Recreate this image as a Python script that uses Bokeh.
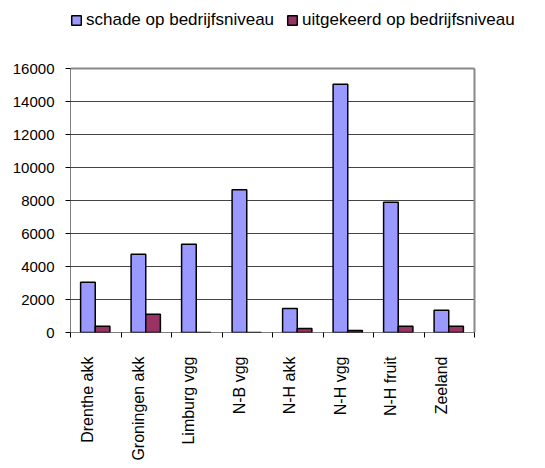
import numpy as np
from bokeh.plotting import figure
from bokeh.models import ColumnDataSource, FixedTicker, Legend, LegendItem, Range1d
from bokeh.transform import dodge
from bokeh.embed import file_html
from bokeh.resources import INLINE

categories = ["Drenthe akk", "Groningen akk", "Limburg vgg", "N-B vgg",
              "N-H akk", "N-H vgg", "N-H fruit", "Zeeland"]
schade = [3050, 4750, 5350, 8650, 1450, 15050, 7900, 1350]
uitgekeerd = [380, 1100, 0, 0, 250, 120, 380, 380]
y_ticks = [0, 2000, 4000, 6000, 8000, 10000, 12000, 14000, 16000]
series_names = ["schade op bedrijfsniveau", "uitgekeerd op bedrijfsniveau"]

n = len(categories)
idx = np.arange(n)
src = ColumnDataSource(dict(x=idx + 0.49, schade=schade, uitgekeerd=uitgekeerd))

FONT = "Liberation Sans"
y_top = y_ticks[-1]
# frame extends above and right of the value area to hold the legend
p = figure(frame_width=470, frame_height=324, output_backend="svg", toolbar_location=None,
           x_range=Range1d(0, n * 470 / 404), y_range=Range1d(0, y_top * 324 / 264),
           min_border_left=70, min_border_right=5, min_border_top=8,
           min_border_bottom=120)

p.xgrid.grid_line_color = None
p.ygrid.grid_line_color = None
p.outline_line_color = None

# horizontal gridlines over the category area only
grid_y = y_ticks[1:-1]
p.segment(x0=[0] * len(grid_y), y0=grid_y, x1=[n] * len(grid_y), y1=grid_y,
          line_color="#444444", line_width=1)
# plot-area border (top and right), value axis line and category axis line
p.segment(x0=[0, n], y0=[y_top, 0], x1=[n, n], y1=[y_top, y_top],
          line_color="#888888", line_width=2)
p.segment(x0=[0, 0], y0=[0, 0], x1=[0, n], y1=[y_top, 0], line_color="black", line_width=1)

r1 = p.vbar(x=dodge("x", -0.145, range=p.x_range), top="schade", width=0.29,
            source=src, fill_color="#9999FF", line_color="black", line_width=1.5)
r2 = p.vbar(x=dodge("x", 0.145, range=p.x_range), top="uitgekeerd", width=0.29,
            source=src, fill_color="#993366", line_color="black", line_width=1.5)

label_pos = [float(i) + 0.34 for i in idx]
p.xaxis.ticker = FixedTicker(ticks=label_pos, minor_ticks=[float(i) for i in range(n + 1)])
p.xaxis.major_label_overrides = {pos: c for pos, c in zip(label_pos, categories)}
p.xaxis.major_label_orientation = np.pi / 2
p.xaxis.major_tick_out = 0
p.xaxis.major_tick_in = 0
p.xaxis.minor_tick_out = 5
p.xaxis.minor_tick_in = 0
p.xaxis.minor_tick_line_color = "black"
p.xaxis.axis_line_color = None
p.xaxis.major_label_standoff = 19
p.xaxis.major_label_text_font = FONT
p.xaxis.major_label_text_font_size = "16px"
p.xaxis.major_label_text_color = "black"

p.yaxis.ticker = FixedTicker(ticks=y_ticks)
p.yaxis.major_tick_out = 5
p.yaxis.major_tick_in = 0
p.yaxis.minor_tick_line_color = None
p.yaxis.axis_line_color = None
p.yaxis.major_label_standoff = 11
p.yaxis.major_label_text_font = FONT
p.yaxis.major_label_text_font_size = "15px"
p.yaxis.major_label_text_color = "black"

p.background_fill_color = "white"
p.border_fill_color = "white"

legend = Legend(items=[LegendItem(label=series_names[0], renderers=[r1]),
                       LegendItem(label=series_names[1], renderers=[r2])],
                orientation="horizontal", location=(0, 302),
                glyph_width=12, glyph_height=12, label_standoff=4, spacing=12,
                padding=0, margin=0, border_line_color=None,
                background_fill_alpha=0,
                label_text_font=FONT, label_text_font_size="17px",
                label_text_color="black")
p.add_layout(legend, "center")

open("out.html", "w").write(file_html(p, INLINE))
